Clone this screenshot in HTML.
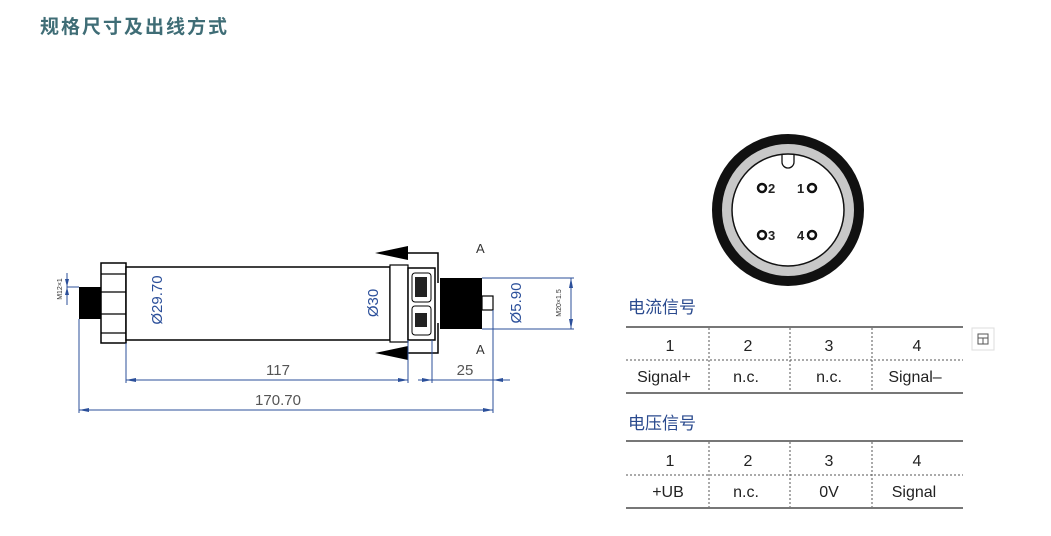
<!DOCTYPE html>
<html><head><meta charset="utf-8"><style>
body{margin:0;background:#fff;}
svg{display:block;}
</style></head><body>
<svg width="1051" height="536" viewBox="0 0 1051 536" xmlns="http://www.w3.org/2000/svg" font-family="Liberation Sans, sans-serif">
<text x="40" y="33" font-family="Liberation Sans, Noto Sans CJK SC, sans-serif" font-size="19" font-weight="bold" fill="#3f6d76" letter-spacing="2">规格尺寸及出线方式</text>

<!-- left thread -->
<rect x="79" y="287" width="22" height="32" fill="#000"/>
<!-- nut -->
<rect x="101" y="263" width="25" height="80" fill="#fff" stroke="#000" stroke-width="1.5"/>
<g stroke="#000" stroke-width="1.2"><line x1="101" y1="274" x2="126" y2="274"/><line x1="101" y1="292" x2="126" y2="292"/><line x1="101" y1="314" x2="126" y2="314"/><line x1="101" y1="333" x2="126" y2="333"/></g>
<!-- body -->
<rect x="126" y="267" width="264" height="73" fill="#fff" stroke="#000" stroke-width="1.5"/>
<rect x="390" y="265" width="18" height="77" fill="#fff" stroke="#000" stroke-width="1.2"/>
<!-- hex -->
<rect x="408" y="268" width="27" height="72" fill="#fff" stroke="#000" stroke-width="1.5"/>
<rect x="412" y="273" width="19" height="29" rx="3" fill="#fff" stroke="#000"/>
<rect x="412" y="306" width="19" height="29" rx="3" fill="#fff" stroke="#000"/>
<rect x="415" y="277" width="12" height="20" fill="#222"/>
<rect x="415" y="313" width="12" height="14" fill="#222"/>
<!-- section A -->
<g stroke="#000" stroke-width="1.5" fill="none"><polyline points="405,253 438,253 438,283"/><polyline points="405,353 438,353 438,323"/></g>
<polygon points="375,253 408,246 408,260" fill="#000"/>
<polygon points="375,353 408,346 408,360" fill="#000"/>
<text x="476" y="253" font-size="13" fill="#333">A</text>
<text x="476" y="354" font-size="13" fill="#333">A</text>
<!-- right thread -->
<rect x="440" y="278" width="42" height="51" fill="#000"/>
<rect x="482" y="296" width="11" height="14" fill="#fff" stroke="#000" stroke-width="1.2"/>

<!-- dimensions -->
<g stroke="#2b4f9a" stroke-width="1" fill="none">
<line x1="67" y1="273" x2="67" y2="305"/><line x1="67" y1="287" x2="79" y2="287"/>
<line x1="126" y1="343" x2="126" y2="383"/><line x1="79" y1="319" x2="79" y2="413"/>
<line x1="408" y1="340" x2="408" y2="383"/><line x1="432" y1="340" x2="432" y2="383"/>
<line x1="493" y1="310" x2="493" y2="413"/>
<line x1="126" y1="380" x2="408" y2="380"/><line x1="418" y1="380" x2="510" y2="380"/>
<line x1="79" y1="410" x2="493" y2="410"/>
<line x1="482" y1="278" x2="574" y2="278"/><line x1="482" y1="329" x2="574" y2="329"/>
<line x1="571" y1="278" x2="571" y2="329"/>
</g>
<g fill="#2b4f9a">
<polygon points="126,380 136,378 136,382"/><polygon points="408,380 398,378 398,382"/>
<polygon points="432,380 422,378 422,382"/><polygon points="493,380 503,378 503,382"/>
<polygon points="79,410 89,408 89,412"/><polygon points="493,410 483,408 483,412"/>
<polygon points="571,278 569,288 573,288"/><polygon points="571,329 569,319 573,319"/>
<polygon points="67,287 65,279 69,279"/><polygon points="67,287 65,295 69,295"/>
</g>
<g fill="#555" font-size="15">
<text x="278" y="375" text-anchor="middle" transform="scale(1,1)" font-family="Liberation Sans Narrow, Liberation Sans, sans-serif">117</text>
<text x="465" y="375" text-anchor="middle">25</text>
<text x="278" y="405" text-anchor="middle" font-family="Liberation Sans Narrow, Liberation Sans, sans-serif">170.70</text>
</g>
<g fill="#2b4f9a" font-size="15">
<text transform="translate(162,300) rotate(-90)" text-anchor="middle">Ø29.70</text>
<text transform="translate(378,303) rotate(-90)" text-anchor="middle">Ø30</text>
<text transform="translate(521,303) rotate(-90)" text-anchor="middle">Ø5.90</text>
</g>
<text transform="translate(62,289) rotate(-90)" text-anchor="middle" font-size="7" fill="#333">M12×1</text>
<text transform="translate(561,303) rotate(-90)" text-anchor="middle" font-size="7" fill="#333">M20×1.5</text>

<!-- connector face -->
<circle cx="788" cy="210" r="71" fill="#c8c8c8" stroke="#111" stroke-width="10"/>
<circle cx="788" cy="210" r="56" fill="#fff" stroke="#111" stroke-width="1.5"/>
<path d="M782,155 L782,162 A6,6 0 0 0 794,162 L794,155" fill="#fff" stroke="#111" stroke-width="1.3"/>
<g fill="none" stroke="#111" stroke-width="2.5">
<circle cx="762" cy="188" r="4"/><circle cx="812" cy="188" r="4"/><circle cx="762" cy="235" r="4"/><circle cx="812" cy="235" r="4"/>
</g>
<g font-size="13" font-weight="bold" fill="#222">
<text x="768" y="193">2</text><text x="797" y="193">1</text><text x="768" y="240">3</text><text x="797" y="240">4</text>
</g>

<!-- tables -->
<g font-family="Liberation Sans, Noto Sans CJK SC, sans-serif" font-size="17" fill="#2a4a8e">
<text x="628" y="313">电流信号</text><text x="628" y="429">电压信号</text>
</g>
<g stroke="#777" stroke-width="2"><line x1="626" y1="327" x2="963" y2="327"/><line x1="626" y1="393" x2="963" y2="393"/><line x1="626" y1="441" x2="963" y2="441"/><line x1="626" y1="508" x2="963" y2="508"/></g>
<g stroke="#555" stroke-width="1" stroke-dasharray="2,2">
<line x1="626" y1="360" x2="963" y2="360"/><line x1="626" y1="475" x2="963" y2="475"/>
<line x1="709" y1="328" x2="709" y2="392"/><line x1="790" y1="328" x2="790" y2="392"/><line x1="872" y1="328" x2="872" y2="392"/>
<line x1="709" y1="442" x2="709" y2="507"/><line x1="790" y1="442" x2="790" y2="507"/><line x1="872" y1="442" x2="872" y2="507"/>
</g>
<g font-size="16" fill="#222" text-anchor="middle">
<text x="670" y="351">1</text><text x="748" y="351">2</text><text x="829" y="351">3</text><text x="917" y="351">4</text>
<text x="664" y="382">Signal+</text><text x="746" y="382">n.c.</text><text x="829" y="382">n.c.</text><text x="915" y="382">Signal–</text>
<text x="670" y="466">1</text><text x="748" y="466">2</text><text x="829" y="466">3</text><text x="917" y="466">4</text>
<text x="668" y="497">+UB</text><text x="746" y="497">n.c.</text><text x="829" y="497">0V</text><text x="914" y="497">Signal</text>
</g>
<rect x="972" y="328" width="22" height="22" fill="#fff" stroke="#ddd"/>
<rect x="978" y="334" width="10" height="10" fill="none" stroke="#555"/>
<line x1="978" y1="338" x2="988" y2="338" stroke="#555"/><line x1="983" y1="338" x2="983" y2="344" stroke="#555"/>
</svg>
</body></html>
